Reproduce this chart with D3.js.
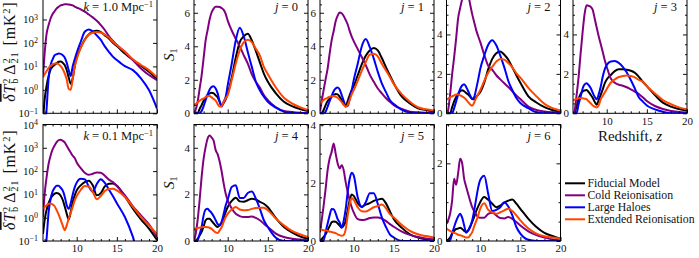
<!DOCTYPE html>
<html>
<head>
<meta charset="utf-8">
<script src="https://cdn.jsdelivr.net/npm/d3@7"></script>
<style>
  html, body { margin: 0; padding: 0; background: #fff; }
  svg { display: block; font-family: "Liberation Serif", "DejaVu Serif", serif; }
  .tick text { font-family: "Liberation Serif", serif; font-size: 11px; fill: #111; }
  .tick line { stroke: #111; }
  .note { font-size: 12.5px; fill: #111; }
  .title { font-size: 15px; fill: #111; }
  .ytitle { font-size: 16px; fill: #111; letter-spacing: 0.8px; }
  .legend text { font-size: 11.8px; fill: #111; }
</style>
</head>
<body>
<div id="chart"></div>
<script>
// Shared redshift grid for every curve
const redshift = [5.8, 6, 6.25, 6.5, 6.75, 7, 7.25, 7.5, 7.75, 8, 8.25, 8.5, 8.75, 9, 9.25, 9.5, 9.75, 10,
  10.5, 11, 11.5, 12, 12.5, 13, 13.5, 14, 14.5, 15, 16, 17, 18, 19, 20];

const modelNames = ["Fiducial Model", "Cold Reionisation", "Large Haloes", "Extended Reionisation"];
const xMajorTicks = [10, 15, 20];
const logTicks = [0.1, 1, 10, 100, 1000, 10000];

// power spectrum, k = 1.0 Mpc^-1  [mK^2]
const k1Fiducial = [0.05, 0.37, 1.5, 3.9, 7.4, 9.8, 11.5, 13.8, 15.8, 16.3, 14.4, 11.5, 7, 3.4, 1.8, 3.1, 10, 24,
  64, 141, 230, 300, 330, 290, 210, 155, 102, 74, 35, 18.6, 10.7, 5.9, 2.8];
const k1Cold = [4, 35, 250, 575, 1100, 1700, 2240, 2950, 3470, 3980, 4200, 4470, 4470, 4370, 4200, 3980, 3550, 3200,
  2700, 2140, 1630, 1230, 880, 575, 355, 195, 124, 81, 42, 18.6, 8.2, 4.3, 2.6];
const k1Haloes = [0.01, 0.01, 0.16, 3.1, 11.5, 20, 30, 33, 35, 34, 30, 24, 14.5, 6.9, 3.9, 10.2, 20, 38,
  112, 300, 375, 310, 209, 135, 71, 42, 26, 18.6, 10.2, 6.9, 3.1, 0.98, 0.16];
const k1Extended = [3.4, 4.6, 6.3, 8.7, 10.7, 12.3, 13, 13.5, 12.3, 10.3, 7.7, 5, 2.8, 1.1, 1.0, 2.9, 9.8, 20,
  62, 132, 224, 270, 295, 280, 224, 170, 112, 81, 42, 20, 11.5, 6.9, 3.4];

// power spectrum, k = 0.1 Mpc^-1  [mK^2]
const k01Fiducial = [0.2, 0.77, 2.2, 4.2, 6.7, 8.8, 10.7, 11.4, 10.7, 8.8, 5.9, 3.1, 1.5, 0.85, 1.74, 4.7, 9.1, 14.8,
  24.5, 34, 39, 24.5, 9.1, 11.4, 22, 28.8, 29.5, 23.6, 8.1, 2.45, 0.85, 0.34, 0.11];
const k01Cold = [1.07, 10, 55, 206, 470, 850, 1260, 1740, 2140, 2200, 2000, 1700, 1230, 870, 630, 455, 363, 234,
  135, 85, 69, 77, 88, 85, 63, 43, 34, 23, 9.1, 3.1, 1.26, 0.52, 0.15];
const k01Haloes = [0.01, 0.02, 0.13, 1.74, 6.5, 13.4, 19.3, 23.6, 23.6, 19.3, 14.8, 8.2, 3.5, 2.4, 4.2, 10, 20, 32,
  47, 45, 22, 13, 28, 45, 31, 16.3, 8.5, 4.2, 1.07, 0.15, 0.01, 0.005, 0.003];
const k01Extended = [2.4, 2.9, 3.4, 4.0, 4.1, 3.7, 3.1, 2.1, 1.35, 0.81, 0.47, 0.29, 0.47, 0.91, 1.6, 2.9, 5.5, 8.5,
  15.8, 23, 22, 12.6, 6.2, 8.5, 13.9, 17, 17.5, 14.8, 7.7, 2.9, 1.07, 0.47, 0.2];

// S1 wavelet statistic, scales j = 0..6
const s1j0Fiducial = [0, 0, 0, 0.26, 0.49, 0.75, 0.93, 1.1, 1.19, 1.22, 1.19, 1.07, 0.95, 0.69, 0.45, 0.63, 0.83, 1.19,
  2.13, 3.32, 4.25, 4.6, 4.75, 4.35, 3.72, 3.04, 2.37, 1.88, 1.19, 0.69, 0.43, 0.26, 0.14];
const s1j0Cold = [0.05, 0.2, 0.69, 1.46, 2.27, 3.3, 4.35, 4.98, 5.61, 6.03, 6.25, 6.36, 6.36, 6.34, 6.28, 6.17, 5.93, 5.53,
  4.94, 4.45, 3.99, 3.46, 2.96, 2.33, 1.88, 1.54, 1.09, 0.79, 0.36, 0.14, 0.08, 0.04, 0.02];
const s1j0Haloes = [0, 0, 0, 0, 0.14, 0.43, 0.79, 1.13, 1.42, 1.58, 1.62, 1.48, 1.19, 0.69, 0.4, 0.69, 0.99, 1.68,
  2.96, 4.35, 5.1, 4.58, 3.66, 2.77, 1.88, 1.38, 0.99, 0.69, 0.34, 0.1, 0.02, 0, 0];
const s1j0Extended = [0.49, 0.55, 0.65, 0.75, 0.83, 0.89, 0.97, 1.03, 1.03, 0.95, 0.85, 0.75, 0.55, 0.4, 0.43, 0.69, 0.89, 1.09,
  1.98, 2.96, 3.75, 4.25, 4.39, 4.25, 3.85, 3.46, 2.77, 2.33, 1.54, 0.93, 0.59, 0.36, 0.2];

const s1j1Fiducial = [0, 0, 0.2, 0.49, 0.73, 0.87, 0.99, 1.09, 1.15, 1.13, 0.99, 0.79, 0.55, 0.47, 0.73, 1.09, 1.38, 1.62,
  2.27, 2.92, 3.44, 3.75, 3.89, 3.75, 3.3, 2.77, 2.27, 1.78, 0.99, 0.59, 0.3, 0.2, 0.1];
const s1j1Cold = [0.1, 0.69, 1.38, 2.04, 2.67, 3.56, 4.35, 4.9, 5.49, 5.83, 6.01, 5.97, 5.81, 5.57, 5.3, 4.9, 4.58, 4.31,
  3.83, 3.36, 2.87, 2.31, 1.88, 1.48, 1.19, 0.91, 0.69, 0.49, 0.26, 0.1, 0.06, 0.04, 0.03];
const s1j1Haloes = [0, 0, 0, 0.1, 0.4, 0.73, 1.03, 1.32, 1.48, 1.54, 1.42, 1.09, 0.75, 0.43, 0.43, 0.89, 1.38, 1.98,
  2.96, 3.99, 4.43, 3.95, 3.26, 2.47, 1.78, 1.28, 0.79, 0.55, 0.2, 0.04, 0, 0, 0];
const s1j1Extended = [0.59, 0.67, 0.79, 0.87, 0.93, 0.99, 1.01, 1.03, 0.99, 0.93, 0.81, 0.67, 0.51, 0.38, 0.49, 0.79, 1.13, 1.38,
  1.94, 2.53, 3.06, 3.5, 3.56, 3.4, 2.96, 2.57, 2.17, 1.74, 1.13, 0.69, 0.36, 0.24, 0.16];

const s1j2Fiducial = [0, 0, 0, 0.31, 0.6, 0.83, 0.98, 1.12, 1.17, 1.12, 1.03, 0.95, 0.83, 0.72, 0.71, 0.83, 0.95, 1.07,
  1.55, 2.24, 2.76, 3.05, 3.14, 2.97, 2.72, 2.33, 1.93, 1.55, 0.86, 0.55, 0.31, 0.17, 0.07];
const s1j2Cold = [0, 0.17, 0.95, 1.98, 2.84, 3.79, 4.83, 5.34, 5.78, 6.05, 6.3, 6.05, 5.52, 5.03, 4.62, 4.22, 3.91, 3.62,
  2.97, 2.41, 2.21, 1.93, 1.72, 1.52, 1.33, 1.12, 0.9, 0.72, 0.34, 0.17, 0.09, 0.05, 0.03];
const s1j2Haloes = [0, 0, 0, 0, 0.26, 0.6, 0.95, 1.24, 1.41, 1.47, 1.34, 1.12, 0.9, 0.74, 0.83, 1.24, 1.72, 2.24,
  2.93, 3.48, 3.71, 3.45, 2.93, 2.33, 1.64, 1.17, 0.78, 0.52, 0.26, 0.05, 0, 0, 0];
const s1j2Extended = [0.69, 0.74, 0.81, 0.86, 0.91, 0.95, 0.95, 0.91, 0.86, 0.79, 0.69, 0.57, 0.45, 0.38, 0.55, 0.78, 0.98, 1.17,
  1.64, 2.07, 2.36, 2.62, 2.76, 2.72, 2.55, 2.33, 2.03, 1.81, 1.29, 0.86, 0.48, 0.26, 0.14];

const s1j3Fiducial = [0, 0.03, 0.37, 0.73, 0.98, 1.11, 1.16, 1.18, 1.08, 0.94, 0.79, 0.59, 0.44, 0.67, 0.93, 1.21, 1.52, 1.72,
  1.94, 2.14, 2.23, 2.23, 2.21, 2.16, 2.06, 1.85, 1.6, 1.38, 0.93, 0.54, 0.34, 0.22, 0.13];
const s1j3Cold = [0, 0.13, 0.93, 1.85, 3.04, 4.13, 5.06, 5.48, 5.45, 5.4, 5.26, 4.81, 4.35, 3.91, 3.51, 3.12, 2.7, 2.36,
  1.77, 1.55, 1.45, 1.4, 1.32, 1.21, 1.1, 0.98, 0.81, 0.62, 0.37, 0.22, 0.12, 0.07, 0.03];
const s1j3Haloes = [0, 0, 0.03, 0.46, 0.84, 1.26, 1.47, 1.53, 1.43, 1.28, 1.05, 0.84, 0.71, 0.96, 1.35, 1.85, 2.23, 2.45,
  2.63, 2.65, 2.56, 2.36, 2.07, 1.69, 1.26, 0.81, 0.59, 0.4, 0.2, 0.08, 0, 0, 0];
const s1j3Extended = [0.67, 0.69, 0.73, 0.76, 0.76, 0.76, 0.74, 0.71, 0.61, 0.51, 0.4, 0.34, 0.3, 0.4, 0.71, 0.88, 1.05, 1.23,
  1.55, 1.72, 1.84, 1.89, 1.92, 1.89, 1.82, 1.69, 1.6, 1.38, 1.01, 0.67, 0.46, 0.3, 0.2];

const s1j4Fiducial = [0, 0.01, 0.1, 0.24, 0.39, 0.63, 0.89, 0.95, 0.95, 0.86, 0.76, 0.66, 0.6, 0.69, 0.79, 1.0, 1.25, 1.46,
  1.72, 1.86, 1.7, 1.68, 1.75, 1.81, 1.78, 1.68, 1.6, 1.45, 0.98, 0.6, 0.37, 0.2, 0.1];
const s1j4Cold = [0, 0.29, 0.89, 1.75, 2.75, 3.54, 4.04, 4.4, 4.53, 4.44, 4.3, 3.9, 3.72, 3.4, 2.97, 2.46, 2.03, 1.75,
  1.39, 1.17, 1.07, 1.03, 1.03, 1.05, 0.99, 0.89, 0.74, 0.6, 0.32, 0.17, 0.1, 0.06, 0.03];
const s1j4Haloes = [0, 0, 0.03, 0.29, 0.6, 1.1, 1.35, 1.38, 1.29, 1.2, 1.06, 0.89, 0.72, 0.66, 0.83, 1.17, 1.53, 1.78,
  2.32, 2.39, 1.85, 1.85, 2.06, 2.12, 1.82, 1.39, 0.89, 0.6, 0.14, 0, 0, 0, 0];
const s1j4Extended = [0.53, 0.54, 0.56, 0.57, 0.59, 0.6, 0.6, 0.59, 0.57, 0.52, 0.44, 0.37, 0.34, 0.46, 0.6, 0.82, 1.03, 1.17,
  1.35, 1.46, 1.35, 1.32, 1.33, 1.38, 1.42, 1.43, 1.43, 1.32, 0.96, 0.67, 0.43, 0.29, 0.17];

const s1j5Fiducial = [0, 0.06, 0.14, 0.23, 0.37, 0.51, 0.64, 0.67, 0.66, 0.6, 0.53, 0.46, 0.53, 0.69, 1.06, 1.4, 1.6, 1.55,
  1.3, 1.18, 1.25, 1.3, 1.38, 1.42, 1.45, 1.3, 1.02, 0.75, 0.45, 0.23, 0.12, 0.06, 0.03];
const s1j5Cold = [0.3, 0.69, 1.21, 1.79, 2.43, 2.83, 3.06, 3.35, 3.0, 2.66, 2.49, 2.6, 2.43, 2.02, 1.68, 1.39, 1.16, 0.98,
  0.75, 0.72, 0.74, 0.79, 0.81, 0.81, 0.77, 0.69, 0.58, 0.49, 0.32, 0.21, 0.14, 0.09, 0.06];
const s1j5Haloes = [0, 0, 0.02, 0.32, 0.6, 0.88, 1.1, 1.09, 0.95, 0.75, 0.64, 0.46, 0.69, 1.1, 1.68, 2.14, 2.34, 2.25,
  1.5, 1.16, 1.33, 1.64, 1.64, 1.27, 0.81, 0.49, 0.23, 0.12, 0, 0, 0, 0, 0];
const s1j5Extended = [0.4, 0.39, 0.37, 0.36, 0.35, 0.32, 0.31, 0.29, 0.27, 0.23, 0.2, 0.18, 0.21, 0.4, 0.87, 1.27, 1.48, 1.41,
  1.16, 1.02, 1.01, 1.08, 1.16, 1.2, 1.25, 1.13, 0.92, 0.81, 0.55, 0.35, 0.23, 0.17, 0.12];

const s1j6Fiducial = [0, 0.03, 0.09, 0.19, 0.26, 0.31, 0.32, 0.34, 0.31, 0.26, 0.24, 0.27, 0.36, 0.49, 0.62, 0.77, 0.89, 1.0,
  1.13, 1.06, 0.96, 0.87, 0.91, 0.99, 1.04, 1.07, 0.96, 0.83, 0.57, 0.36, 0.21, 0.13, 0.06];
const s1j6Cold = [0.44, 0.53, 0.7, 1.04, 1.6, 1.45, 1.75, 2.12, 2.0, 1.6, 1.4, 1.21, 1.03, 0.87, 0.77, 0.68, 0.62, 0.6,
  0.6, 0.7, 0.73, 0.66, 0.59, 0.58, 0.62, 0.57, 0.49, 0.4, 0.25, 0.15, 0.09, 0.04, 0.02];
const s1j6Haloes = [0, 0, 0.02, 0.19, 0.36, 0.51, 0.63, 0.7, 0.6, 0.4, 0.21, 0.27, 0.38, 0.53, 0.79, 1.09, 1.38, 1.57,
  1.68, 1.21, 0.77, 0.8, 0.87, 1.0, 0.89, 0.66, 0.36, 0.19, 0.03, 0, 0, 0, 0];
const s1j6Extended = [0.32, 0.29, 0.26, 0.23, 0.21, 0.19, 0.16, 0.15, 0.13, 0.11, 0.09, 0.09, 0.15, 0.23, 0.38, 0.51, 0.66, 0.83,
  0.97, 0.8, 0.74, 0.7, 0.74, 0.79, 0.83, 0.77, 0.66, 0.53, 0.32, 0.19, 0.12, 0.09, 0.06];

// Layout config
const WIDTH = 699, HEIGHT = 258;
const PANEL_W = 114;
const COL_X = [43, 194, 320, 446.5, 573];
const ROW_Y = [[-4, 113.3], [124.5, 241]];
const Z_DOMAIN = [5.8, 20];
const COLORS = ["#000000", "#800080", "#0000ff", "#ff4500"];
const MAJOR_LEN = 4, MINOR_LEN = 2;

const panels = [
  { col: 0, row: 0, log: true, k: "1.0", series: [k1Fiducial, k1Cold, k1Haloes, k1Extended], xLabels: false },
  { col: 0, row: 1, log: true, k: "0.1", series: [k01Fiducial, k01Cold, k01Haloes, k01Extended], xLabels: true },
  { col: 1, row: 0, j: 0, ymax: 7, series: [s1j0Fiducial, s1j0Cold, s1j0Haloes, s1j0Extended], xLabels: false, yTitle: true },
  { col: 2, row: 0, j: 1, ymax: 7, series: [s1j1Fiducial, s1j1Cold, s1j1Haloes, s1j1Extended], xLabels: false },
  { col: 3, row: 0, j: 2, ymax: 5.95, series: [s1j2Fiducial, s1j2Cold, s1j2Haloes, s1j2Extended], xLabels: false },
  { col: 4, row: 0, j: 3, ymax: 5.95, series: [s1j3Fiducial, s1j3Cold, s1j3Haloes, s1j3Extended], xLabels: true, xTitle: true },
  { col: 1, row: 1, j: 4, ymax: 5, series: [s1j4Fiducial, s1j4Cold, s1j4Haloes, s1j4Extended], xLabels: true, yTitle: true },
  { col: 2, row: 1, j: 5, ymax: 4, series: [s1j5Fiducial, s1j5Cold, s1j5Haloes, s1j5Extended], xLabels: true },
  { col: 3, row: 1, j: 6, ymax: 3, series: [s1j6Fiducial, s1j6Cold, s1j6Haloes, s1j6Extended], xLabels: true }
];

const svg = d3.select("#chart").append("svg")
  .attr("width", WIDTH)
  .attr("height", HEIGHT);
const defs = svg.append("defs");

const blank = () => "";
const dropDomain = (sel) => sel.select(".domain").remove();

function drawAxes(g, x, y, p) {
  const [x0, x1] = x.range();
  const [y1, y0] = y.range();
  const xMinor = d3.range(6, 20).filter((v) => v % 5 !== 0);

  // bottom + top
  g.append("g").attr("transform", `translate(0,${y1})`)
    .call(d3.axisBottom(x).tickValues(xMajorTicks).tickSize(-MAJOR_LEN).tickPadding(3.5)
      .tickFormat(p.xLabels ? d3.format("d") : blank))
    .call(dropDomain);
  g.append("g").attr("transform", `translate(0,${y1})`)
    .call(d3.axisBottom(x).tickValues(xMinor).tickSize(-MINOR_LEN).tickFormat(blank))
    .call(dropDomain);
  g.append("g").attr("transform", `translate(0,${y0})`)
    .call(d3.axisTop(x).tickValues(xMajorTicks).tickSize(-MAJOR_LEN).tickFormat(blank))
    .call(dropDomain);
  g.append("g").attr("transform", `translate(0,${y0})`)
    .call(d3.axisTop(x).tickValues(xMinor).tickSize(-MINOR_LEN).tickFormat(blank))
    .call(dropDomain);

  // left + right
  const yMajor = p.log ? logTicks : d3.range(0, p.ymax + 0.01, 2);
  const yMinor = p.log ? [] : d3.range(0, p.ymax + 0.01, 0.5).filter((v) => v % 2 !== 0);

  const left = g.append("g").attr("transform", `translate(${x0},0)`)
    .call(d3.axisLeft(y).tickValues(yMajor).tickSize(-MAJOR_LEN).tickPadding(p.log ? 5 : 4)
      .tickFormat(p.log ? blank : d3.format("d")))
    .call(dropDomain);
  if (p.log) {
    // superscript labels, skipping the one that falls off the top of the page
    left.selectAll(".tick text").filter((d) => y(d) > 2).each(function (d) {
      const t = d3.select(this);
      const e = Math.round(Math.log10(d));
      t.append("tspan").text("10");
      t.append("tspan").attr("dy", "-0.45em").attr("font-size", "8px")
        .text(e < 0 ? "\u2212" + (-e) : e);
    });
  }
  g.append("g").attr("transform", `translate(${x0},0)`)
    .call(d3.axisLeft(y).tickValues(yMinor).tickSize(-MINOR_LEN).tickFormat(blank))
    .call(dropDomain);
  g.append("g").attr("transform", `translate(${x1},0)`)
    .call(d3.axisRight(y).tickValues(yMajor).tickSize(-MAJOR_LEN).tickFormat(blank))
    .call(dropDomain);
  g.append("g").attr("transform", `translate(${x1},0)`)
    .call(d3.axisRight(y).tickValues(yMinor).tickSize(-MINOR_LEN).tickFormat(blank))
    .call(dropDomain);
}

panels.forEach((p, i) => {
  const x0 = COL_X[p.col], x1 = x0 + PANEL_W;
  const [y0, y1] = ROW_Y[p.row];

  const x = d3.scaleLinear().domain(Z_DOMAIN).range([x0, x1]);
  const y = p.log
    ? d3.scaleLog().domain([0.1, 1e4]).range([y1, y0])
    : d3.scaleLinear().domain([0, p.ymax]).range([y1, y0]);

  const g = svg.append("g");
  defs.append("clipPath").attr("id", "clip" + i)
    .append("rect").attr("x", x0).attr("y", y0).attr("width", PANEL_W).attr("height", y1 - y0);

  const plot = g.append("g").attr("clip-path", `url(#clip${i})`);
  const line = d3.line()
    .x((d) => x(d[0]))
    .y((d) => y(d[1]))
    .curve(d3.curveMonotoneX);

  p.series.forEach((vals, k) => {
    plot.append("path")
      .datum(d3.zip(redshift, vals))
      .attr("d", line)
      .attr("fill", "none")
      .attr("stroke", COLORS[k])
      .attr("stroke-width", 2)
      .attr("stroke-linejoin", "round");
  });

  drawAxes(g, x, y, p);

  g.append("rect")
    .attr("x", x0).attr("y", y0)
    .attr("width", PANEL_W).attr("height", y1 - y0)
    .attr("fill", "none").attr("stroke", "#000").attr("stroke-width", 1);

  // panel annotation
  if (p.log) {
    const t = g.append("text").attr("class", "note")
      .attr("x", x1 - 4).attr("y", y0 + 15).attr("text-anchor", "end");
    t.append("tspan").attr("font-style", "italic").text("k");
    t.append("tspan").text(` = ${p.k} Mpc`);
    t.append("tspan").attr("dy", "-0.45em").attr("font-size", "8.5px").text("\u22121");

    // y title
    const cy = (y0 + y1) / 2 - 3;
    const yt = g.append("text").attr("class", "ytitle")
      .attr("transform", `translate(15,${cy}) rotate(-90)`)
      .attr("text-anchor", "middle");
    yt.append("tspan").attr("font-style", "italic").attr("text-decoration", "overline").text("\u03b4T");
    yt.append("tspan").attr("font-size", "10.5px").attr("dy", 3).text("b");
    yt.append("tspan").attr("font-size", "10.5px").attr("dy", -8).attr("dx", -6).text("2");
    yt.append("tspan").attr("dy", 5).attr("dx", 3).text("\u0394");
    yt.append("tspan").attr("font-size", "10.5px").attr("dy", 3).text("21");
    yt.append("tspan").attr("font-size", "10.5px").attr("dy", -8).attr("dx", -12).text("2");
    yt.append("tspan").attr("dy", 5).attr("dx", 12).text("[mK");
    yt.append("tspan").attr("font-size", "10.5px").attr("dy", -5).text("2");
    yt.append("tspan").attr("dy", 5).text("]");
  } else {
    const t = g.append("text").attr("class", "note")
      .attr("x", x1 - 10).attr("y", y0 + 15).attr("text-anchor", "end");
    t.append("tspan").attr("font-style", "italic").text("j");
    t.append("tspan").text(` = ${p.j}`);
  }

  if (p.yTitle) {
    const cy = (y0 + y1) / 2;
    const st = g.append("text").attr("class", "title")
      .attr("transform", `translate(174,${cy}) rotate(-90)`)
      .attr("text-anchor", "middle");
    st.append("tspan").attr("font-style", "italic").text("S");
    st.append("tspan").attr("font-size", "10px").attr("dy", 3).text("1");
  }

  if (p.xTitle) {
    const xt = g.append("text").attr("class", "title")
      .attr("x", (x0 + x1) / 2).attr("y", y1 + 28).attr("text-anchor", "middle");
    xt.append("tspan").text("Redshift, ");
    xt.append("tspan").attr("font-style", "italic").text("z");
  }
});

// Legend
const legend = svg.append("g").attr("class", "legend");
const legendY = [183.3, 195.3, 207.3, 219.3];
modelNames.forEach((name, k) => {
  legend.append("line")
    .attr("x1", 565).attr("x2", 585)
    .attr("y1", legendY[k]).attr("y2", legendY[k])
    .attr("stroke", COLORS[k]).attr("stroke-width", 2);
  legend.append("text")
    .attr("x", 587.5).attr("y", legendY[k]).attr("dy", "0.35em")
    .text(name);
});
</script>
</body>
</html>
